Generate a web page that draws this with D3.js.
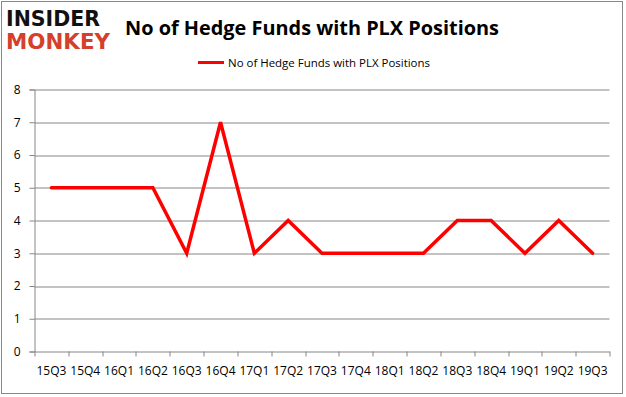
<!DOCTYPE html>
<html>
<head>
<meta charset="utf-8">
<script src="https://cdn.jsdelivr.net/npm/d3@7"></script>
<style>
    body { margin: 0; background: #fff; }
    .chart { width: 626px; height: 397px; }
    text { font-family: "Open Sans", "Liberation Sans", sans-serif; }
</style>
</head>
<body>
<div class="chart"></div>
<script>
// DATA **********************************************************************
var quarters = ['15Q3','15Q4','16Q1','16Q2','16Q3','16Q4','17Q1','17Q2','17Q3',
                '17Q4','18Q1','18Q2','18Q3','18Q4','19Q1','19Q2','19Q3'];
var funds = [5, 5, 5, 5, 3, 7, 3, 4, 3, 3, 3, 3, 4, 4, 3, 4, 3];
var yTicks = [0, 1, 2, 3, 4, 5, 6, 7, 8];
var seriesName = 'No of Hedge Funds with PLX Positions';
var chartTitle = 'No of Hedge Funds with PLX Positions';

// MARGIN CONVENTION *********************************************************
var W = 626, H = 397;
var margin = {top: 89.5, right: 16.5, bottom: 45.5, left: 34.5};
var width = W - margin.left - margin.right,
    height = H - margin.top - margin.bottom;

var root = d3.select('.chart').append('svg')
    .attr('width', W)
    .attr('height', H);

// outer frame
root.append('rect')
    .attr('x', 1.5).attr('y', 1.5)
    .attr('width', 621).attr('height', 392)
    .attr('fill', '#fff')
    .attr('stroke', '#888');

// LOGO
root.append('text')
    .attr('x', 6).attr('y', 26)
    .attr('textLength', 94).attr('lengthAdjust', 'spacingAndGlyphs')
    .style('font-family', '"DejaVu Sans", sans-serif')
    .style('font-weight', 900).style('font-size', '21px')
    .attr('fill', '#111')
    .text('INSIDER');
root.append('text')
    .attr('x', 6).attr('y', 49)
    .attr('textLength', 104).attr('lengthAdjust', 'spacingAndGlyphs')
    .style('font-family', '"DejaVu Sans", sans-serif')
    .style('font-weight', 900).style('font-size', '21px')
    .attr('fill', '#d4402b')
    .text('MONKEY');

// TITLE
root.append('text')
    .attr('x', 125).attr('y', 35)
    .attr('textLength', 374).attr('lengthAdjust', 'spacingAndGlyphs')
    .style('font-weight', 'bold').style('font-size', '20px')
    .attr('fill', '#000')
    .text(chartTitle);

// LEGEND
root.append('line')
    .attr('x1', 198).attr('x2', 224)
    .attr('y1', 62.5).attr('y2', 62.5)
    .attr('stroke', '#f00').attr('stroke-width', 3);
root.append('text')
    .attr('x', 228).attr('y', 66.5)
    .attr('textLength', 202).attr('lengthAdjust', 'spacingAndGlyphs')
    .style('font-size', '11px')
    .attr('fill', '#000')
    .text(seriesName);

var svg = root.append('g')
    .attr('transform', 'translate(' + margin.left + ',' + margin.top + ')');

// SCALES
var xScale = d3.scaleBand().domain(quarters).range([0, width]);
var yScale = d3.scaleLinear().domain([0, 8]).range([height, 0]);

// GRIDLINES
svg.append('g').selectAll('line')
    .data(yTicks.slice(1))
    .enter().append('line')
    .attr('x1', 0).attr('x2', width)
    .attr('y1', function(d) { return Math.round(yScale(d)) + 0.5; })
    .attr('y2', function(d) { return Math.round(yScale(d)) + 0.5; })
    .attr('stroke', '#868686');

// AXES
var xAxis = d3.axisBottom(xScale).tickSize(0).tickPadding(15);
var xAxisG = svg.append('g')
    .attr('transform', 'translate(0,' + height + ')')
    .call(xAxis);
xAxisG.select('.domain').attr('stroke', '#868686');
xAxisG.selectAll('text').style('font-size', '12px').attr('fill', '#000')
    .style('font-family', '"Open Sans", sans-serif');
// boundary ticks
xAxisG.append('g').selectAll('line')
    .data(quarters.concat(['end']))
    .enter().append('line')
    .attr('x1', function(d, i) { return Math.round(i * xScale.step()) + 0.5; })
    .attr('x2', function(d, i) { return Math.round(i * xScale.step()) + 0.5; })
    .attr('y1', 0).attr('y2', 5)
    .attr('stroke', '#868686');

var yAxis = d3.axisLeft(yScale).tickValues(yTicks).tickSize(5).tickPadding(9);
var yAxisG = svg.append('g').call(yAxis);
yAxisG.select('.domain').attr('stroke', '#868686');
yAxisG.selectAll('line').attr('stroke', '#868686');
yAxisG.selectAll('text').style('font-size', '12px').attr('fill', '#000');

// LINE
var line = d3.line()
    .x(function(d, i) { return xScale(quarters[i]) + xScale.bandwidth() / 2; })
    .y(function(d) { return yScale(d); });

svg.append('path')
    .datum(funds)
    .attr('d', line)
    .attr('fill', 'none')
    .attr('stroke', '#f00')
    .attr('stroke-width', 3.5)
    .attr('stroke-linejoin', 'miter')
    .attr('stroke-linecap', 'round');
</script>
</body>
</html>
